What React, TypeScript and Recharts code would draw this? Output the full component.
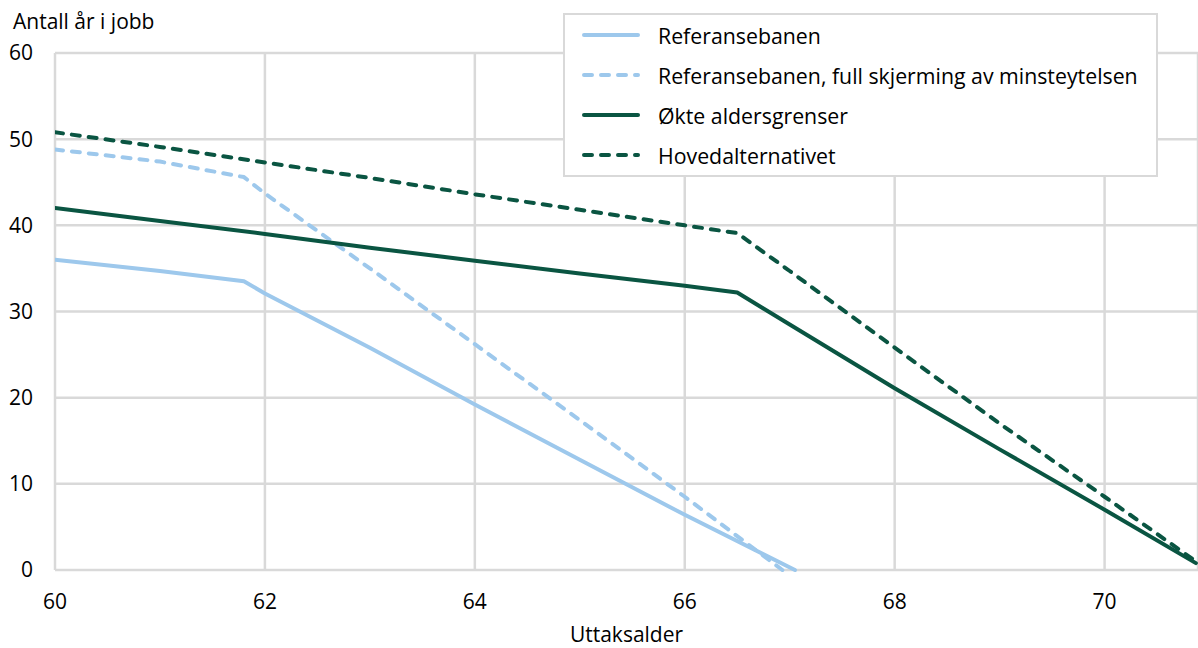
import { LineChart, Line, XAxis, YAxis, CartesianGrid } from "recharts";

// verdier lest av figuren
const refAges = [60, 61, 61.8, 62, 63, 64, 65, 66, 67.05];
const refValues = [36, 34.7, 33.5, 32.1, 25.8, 19.2, 12.8, 6.4, 0];

const fullAges = [60, 61, 61.8, 62, 63, 64, 65, 66, 66.93];
const fullValues = [48.8, 47.4, 45.6, 43.7, 35.0, 26.2, 17.4, 8.5, 0];

const okteAges = [60, 61, 62, 63, 64, 65, 66, 66.5, 67, 68, 69, 70, 70.87];
const okteValues = [42, 40.5, 39.0, 37.4, 35.9, 34.4, 33.0, 32.2, 28.5, 21.1, 14.0, 7.0, 0.8];

const hovedAges = [60, 61, 62, 63, 64, 65, 66, 66.5, 67, 68, 69, 70, 70.87];
const hovedValues = [50.8, 49.1, 47.3, 45.5, 43.6, 41.8, 40.0, 39.1, 34.7, 25.8, 17.0, 8.5, 1.0];

const xTicks = [60, 62, 64, 66, 68, 70];
const yTicks = [0, 10, 20, 30, 40, 50, 60];

const LIGHT = "#9dc8ec";
const DARK = "#0a5542";
const GRID = "#d9d9d9";
const FONT = "'Open Sans', sans-serif";

const toRows = (ages: number[], values: number[]) =>
  ages.map((x, i) => ({ x, y: values[i] }));

const series = [
  { name: "Referansebanen", data: toRows(refAges, refValues), color: LIGHT, dashed: false },
  {
    name: "Referansebanen, full skjerming av minsteytelsen",
    data: toRows(fullAges, fullValues),
    color: LIGHT,
    dashed: true,
  },
  { name: "Økte aldersgrenser", data: toRows(okteAges, okteValues), color: DARK, dashed: false },
  { name: "Hovedalternativet", data: toRows(hovedAges, hovedValues), color: DARK, dashed: true },
];

function LegendBox() {
  return (
    <div
      style={{
        position: "absolute",
        left: 563,
        top: 13,
        width: 595,
        boxSizing: "border-box",
        background: "#fff",
        border: `2px solid ${GRID}`,
        padding: "0 17px",
        fontFamily: FONT,
        fontSize: 21.3,
        color: "#000",
        zIndex: 2,
      }}
    >
      {series.map((s) => (
        <div key={s.name} style={{ display: "flex", alignItems: "center", height: 40 }}>
          <svg width={58} height={6} style={{ marginRight: 18 }}>
            <line
              x1={2}
              y1={3}
              x2={56}
              y2={3}
              stroke={s.color}
              strokeWidth={4}
              strokeLinecap="round"
              strokeDasharray={s.dashed ? "8 9" : undefined}
            />
          </svg>
          <span style={{ whiteSpace: "nowrap" }}>{s.name}</span>
        </div>
      ))}
    </div>
  );
}

export default function App() {
  return (
    <div style={{ position: "absolute", left: 0, top: 0, width: 1198, height: 648, background: "#fff" }}>
      <div
        style={{
          position: "absolute",
          left: 13,
          top: 11,
          fontFamily: FONT,
          fontSize: 21,
          lineHeight: "21px",
          color: "#000",
          zIndex: 2,
        }}
      >
        Antall år i jobb
      </div>
      <LineChart width={1198} height={648} margin={{ top: 53, right: 0, left: 0, bottom: 0 }}>
        <CartesianGrid stroke={GRID} strokeWidth={2.5} />
        <XAxis
          dataKey="x"
          type="number"
          domain={[60, 70.89]}
          ticks={xTicks}
          allowDataOverflow
          axisLine={false}
          tickLine={false}
          tickSize={0}
          tickMargin={24}
          height={78}
          tick={{ fill: "#000", fontSize: 21, fontFamily: FONT }}
          label={{
            value: "Uttaksalder",
            position: "insideBottom",
            offset: 6,
            fill: "#000",
            fontSize: 21,
            fontFamily: FONT,
          }}
        />
        <YAxis
          type="number"
          domain={[0, 60]}
          ticks={yTicks}
          axisLine={false}
          tickLine={false}
          tickSize={0}
          tickMargin={22}
          width={55}
          tick={{ fill: "#000", fontSize: 21, fontFamily: FONT }}
        />
        {series.map((s) => (
          <Line
            key={s.name}
            data={s.data}
            dataKey="y"
            name={s.name}
            type="linear"
            stroke={s.color}
            strokeWidth={4}
            strokeDasharray={s.dashed ? "8 9" : undefined}
            strokeLinecap="round"
            strokeLinejoin="round"
            dot={false}
            activeDot={false}
            isAnimationActive={false}
          />
        ))}
      </LineChart>
      <LegendBox />
    </div>
  );
}
